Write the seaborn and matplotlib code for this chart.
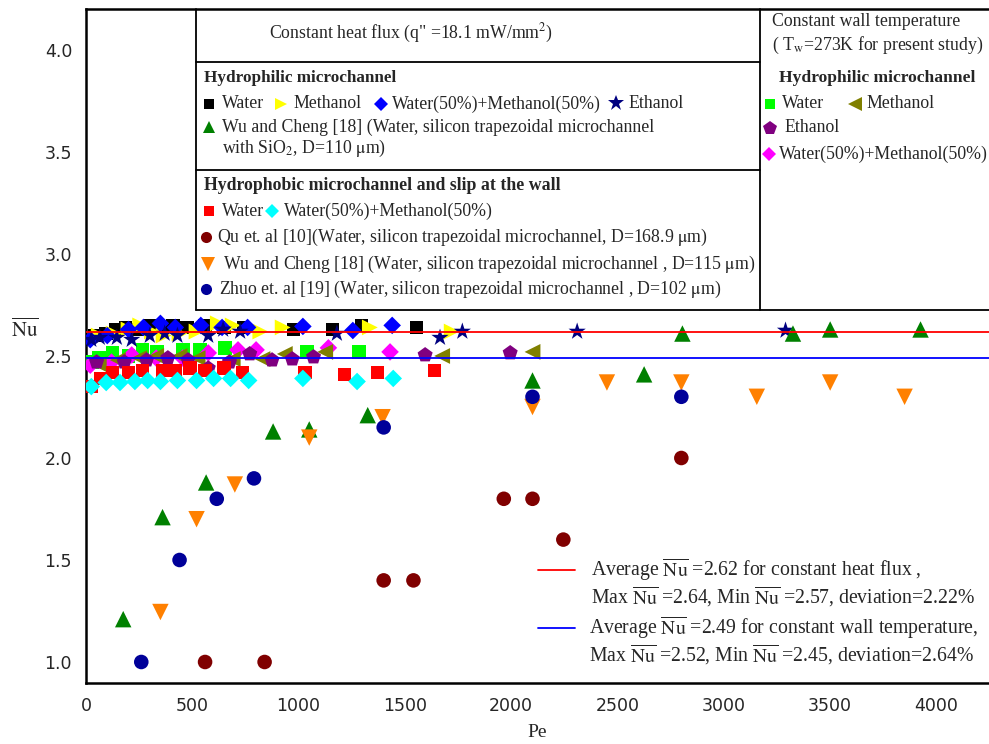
import matplotlib
matplotlib.use("Agg")
import matplotlib.pyplot as plt
from matplotlib.lines import Line2D
from matplotlib.ticker import MultipleLocator
import seaborn as sns

# --- data (Pe, Nu) ---
# constant heat flux, hydrophilic
water_hf_pe = [40, 95, 140, 185, 240, 300, 360, 410, 475, 560, 650, 740, 975, 1160, 1295, 1555]
water_hf_nu = [2.60, 2.61, 2.63, 2.64, 2.63, 2.65, 2.64, 2.65, 2.64, 2.65, 2.64, 2.64, 2.63, 2.63, 2.65, 2.64]
meth_hf_pe = [60, 130, 200, 255, 310, 365, 440, 520, 620, 690, 820, 925, 1335, 1720]
meth_hf_nu = [2.60, 2.61, 2.63, 2.65, 2.62, 2.60, 2.61, 2.62, 2.66, 2.65, 2.62, 2.64, 2.64, 2.62]
wm_hf_pe = [20, 100, 200, 270, 350, 420, 540, 640, 760, 1020, 1255, 1440]
wm_hf_nu = [2.58, 2.60, 2.63, 2.64, 2.66, 2.64, 2.65, 2.64, 2.64, 2.645, 2.625, 2.65]
eth_hf_pe = [25, 65, 145, 215, 300, 370, 430, 575, 645, 725, 1180, 1665, 1770, 2310, 3290]
eth_hf_nu = [2.58, 2.59, 2.59, 2.58, 2.60, 2.61, 2.60, 2.60, 2.63, 2.62, 2.61, 2.59, 2.62, 2.62, 2.625]
wu110_pe = [175, 360, 565, 880, 1050, 1325, 2100, 2625, 2805, 3325, 3500, 3925]
wu110_nu = [1.21, 1.71, 1.88, 2.13, 2.14, 2.21, 2.38, 2.41, 2.61, 2.61, 2.63, 2.63]

# constant heat flux, hydrophobic + slip
water_hb_pe = [25, 70, 125, 200, 265, 360, 420, 490, 560, 650, 735, 1030, 1215, 1370, 1640]
water_hb_nu = [2.35, 2.39, 2.42, 2.42, 2.43, 2.43, 2.43, 2.44, 2.43, 2.44, 2.42, 2.42, 2.41, 2.42, 2.43]
wm_hb_pe = [25, 95, 160, 230, 290, 350, 430, 520, 600, 680, 765, 1020, 1275, 1445]
wm_hb_nu = [2.35, 2.37, 2.37, 2.375, 2.38, 2.375, 2.38, 2.38, 2.39, 2.39, 2.38, 2.39, 2.375, 2.39]
qu_pe = [560, 840, 1400, 1540, 1965, 2100, 2245, 2800]
qu_nu = [1.0, 1.0, 1.4, 1.4, 1.8, 1.8, 1.6, 2.0]
wu115_pe = [350, 520, 700, 1050, 1395, 2100, 2450, 2800, 3155, 3500, 3850]
wu115_nu = [1.245, 1.70, 1.87, 2.10, 2.20, 2.25, 2.37, 2.37, 2.30, 2.37, 2.30]
zhuo_pe = [260, 440, 615, 790, 1400, 2100, 2800]
zhuo_nu = [1.0, 1.5, 1.8, 1.9, 2.15, 2.30, 2.30]

# constant wall temperature, hydrophilic
water_cw_pe = [30, 60, 125, 200, 265, 335, 455, 535, 655, 1040, 1285]
water_cw_nu = [2.47, 2.49, 2.515, 2.50, 2.53, 2.52, 2.53, 2.53, 2.54, 2.52, 2.52]
meth_cw_pe = [60, 150, 250, 330, 440, 525, 690, 830, 935, 1125, 1675, 2100]
meth_cw_nu = [2.46, 2.48, 2.49, 2.50, 2.50, 2.49, 2.485, 2.485, 2.51, 2.52, 2.50, 2.52]
eth_cw_pe = [50, 180, 285, 385, 480, 575, 675, 770, 875, 970, 1070, 1595, 1995]
eth_cw_nu = [2.47, 2.47, 2.48, 2.49, 2.48, 2.44, 2.47, 2.51, 2.48, 2.485, 2.495, 2.505, 2.515]
wm_cw_pe = [20, 120, 215, 330, 455, 575, 715, 800, 1140, 1430]
wm_cw_nu = [2.455, 2.47, 2.505, 2.49, 2.49, 2.515, 2.53, 2.53, 2.54, 2.52]

avg_hf = 2.62
avg_cw = 2.49

# --- style ---
sns.set_style("white")
plt.rcParams["font.family"] = ["Liberation Serif", "DejaVu Serif"]
plt.rcParams["mathtext.fontset"] = "stix"

W, H = 989, 744
fig = plt.figure(figsize=(W / 100, H / 100), dpi=100)
ax = fig.add_axes([86 / W, 1 - 683 / H, 903 / W, 674 / H])

def fx(x):
    return x / W

def fy(y):
    return 1 - y / H

# series: (pe, nu, marker, color, size)
series = [
    (water_cw_pe, water_cw_nu, "s", "#00ff00", 95),
    (wm_cw_pe, wm_cw_nu, "D", "#ff00ff", 80),
    (meth_cw_pe, meth_cw_nu, "<", "#808000", 130),
    (eth_cw_pe, eth_cw_nu, "p", "#800080", 130),
    (water_hb_pe, water_hb_nu, "s", "#ff0000", 95),
    (wm_hb_pe, wm_hb_nu, "D", "#00ffff", 80),
    (water_hf_pe, water_hf_nu, "s", "#000000", 95),
    (meth_hf_pe, meth_hf_nu, ">", "#ffff00", 130),
    (wm_hf_pe, wm_hf_nu, "D", "#0000ff", 80),
    (eth_hf_pe, eth_hf_nu, "*", "#000080", 170),
    (wu110_pe, wu110_nu, "^", "#008000", 140),
    (wu115_pe, wu115_nu, "v", "#ff8000", 140),
    (zhuo_pe, zhuo_nu, "o", "#000099", 110),
    (qu_pe, qu_nu, "o", "#800000", 110),
]
for pe, nu, mk, col, sz in series:
    sns.scatterplot(x=pe, y=nu, marker=mk, color=col, s=sz, linewidth=0,
                    edgecolor="none", ax=ax, zorder=3)

ax.axhline(avg_hf, color="#ff0000", lw=1.3, zorder=4)
ax.axhline(avg_cw, color="#0000ff", lw=1.3, zorder=4)

ax.set_xlim(0, 4247)
ax.set_ylim(0.897, 4.201)
ax.xaxis.set_major_locator(MultipleLocator(500))
ax.xaxis.set_minor_locator(MultipleLocator(250))
ax.yaxis.set_major_locator(MultipleLocator(0.5))
ax.yaxis.set_minor_locator(MultipleLocator(0.25))
ax.tick_params(which="major", direction="in", length=9.5, width=1.5, pad=10,
               labelsize=12.5, labelfontfamily="DejaVu Sans")
ax.tick_params(axis="x", which="minor", direction="in", length=5, width=1.5)
ax.tick_params(axis="y", which="minor", direction="in", length=9.5, width=1.5)
for s in ["left", "bottom", "top"]:
    ax.spines[s].set_linewidth(1.8)
    ax.spines[s].set_color("black")
ax.spines["right"].set_visible(False)

ax.set_xlabel("Pe", fontsize=14, va="center")
ax.xaxis.set_label_coords(0.4995, -0.074)
ax.set_ylabel(r"$\overline{\mathrm{Nu}}$", fontsize=15, rotation=0, va="center")
ax.yaxis.set_label_coords(-0.068, 0.524)

# --- table box in the upper part ---
lw = 1.3
def hline(y, x0, x1):
    fig.add_artist(Line2D([fx(x0), fx(x1)], [fy(y), fy(y)], color="black", lw=lw))

def vline(x, y0, y1):
    fig.add_artist(Line2D([fx(x), fx(x)], [fy(y0), fy(y1)], color="black", lw=lw))

vline(196, 9, 310)
vline(760, 9, 310)
hline(62, 196, 760)
hline(170, 196, 760)
hline(310, 196, 989)

def txt(x, y, s, size=12.8, **kw):
    fig.text(fx(x), fy(y), s, fontsize=size, va="center", **kw)

def mark(x, y, mk, col, ms):
    fig.add_artist(Line2D([fx(x)], [fy(y)], marker=mk, color=col, markersize=ms,
                          markeredgewidth=0, linestyle="none"))

txt(411, 33, r'Constant heat flux (q" =18.1 mW/mm$^2$)', ha="center")
txt(772, 22, "Constant wall temperature")
txt(772, 45, r"( T$_\mathrm{w}$=273K for present study)")

txt(204, 78, "Hydrophilic microchannel", size=12.3, weight="bold")
mark(209, 104, "s", "#000000", 7)
txt(222, 104, "Water")
mark(281, 104, ">", "#ffff00", 9)
txt(293, 104, "Methanol")
mark(381, 104, "D", "#0000ff", 7)
txt(392, 104, "Water(50%)+Methanol(50%)")
mark(616, 103, "*", "#000080", 12)
txt(628, 104, "Ethanol")
mark(209, 127, "^", "#008000", 9)
txt(222, 127, "Wu and Cheng [18] (Water, silicon trapezoidal microchannel")
txt(222, 148, r"with SiO$_2$, D=110 $\mathrm{\mu}$m)")

txt(204, 186, "Hydrophobic microchannel and slip at the wall", size=12.8, weight="bold")
mark(209, 211, "s", "#ff0000", 7)
txt(222, 211, "Water")
mark(272, 211, "D", "#00ffff", 7)
txt(284, 211, "Water(50%)+Methanol(50%)")
mark(206, 237, "o", "#800000", 8)
txt(217, 237, r"Qu et. al [10](Water, silicon trapezoidal microchannel, D=168.9 $\mathrm{\mu}$m)")
mark(208, 264, "v", "#ff8000", 10)
txt(223, 264, r"Wu and Cheng [18] (Water, silicon trapezoidal microchannel , D=115 $\mathrm{\mu}$m)")
mark(206, 289, "o", "#000099", 8)
txt(219, 289, r"Zhuo et. al [19] (Water, silicon trapezoidal microchannel , D=102 $\mathrm{\mu}$m)")

txt(877, 78, "Hydrophilic microchannel", size=12.6, weight="bold", ha="center")
mark(770, 104, "s", "#00ff00", 7)
txt(782, 104, "Water")
mark(855, 104, "<", "#808000", 10)
txt(866, 104, "Methanol")
mark(770, 128, "p", "#800080", 10)
txt(784, 128, "Ethanol")
mark(769, 154, "D", "#ff00ff", 7)
txt(779, 154, "Water(50%)+Methanol(50%)")

# --- average lines legend ---
nb = r"$\overline{\mathrm{Nu}}$"
fig.add_artist(Line2D([fx(538), fx(575)], [fy(570), fy(570)], color="#ff0000", lw=1.3))
txt(591, 570, "Average " + nb + " =2.62 for constant heat flux ,", size=14.2)
txt(591, 597, "Max " + nb + " =2.64, Min " + nb + " =2.57, deviation=2.22%", size=14.2)
fig.add_artist(Line2D([fx(538), fx(575)], [fy(628), fy(628)], color="#0000ff", lw=1.3))
txt(589, 628, "Average " + nb + " =2.49 for constant wall temperature,", size=14.2)
txt(589, 655, "Max " + nb + " =2.52, Min " + nb + " =2.45, deviation=2.64%", size=14.2)

fig.savefig("out.png", dpi=100)
